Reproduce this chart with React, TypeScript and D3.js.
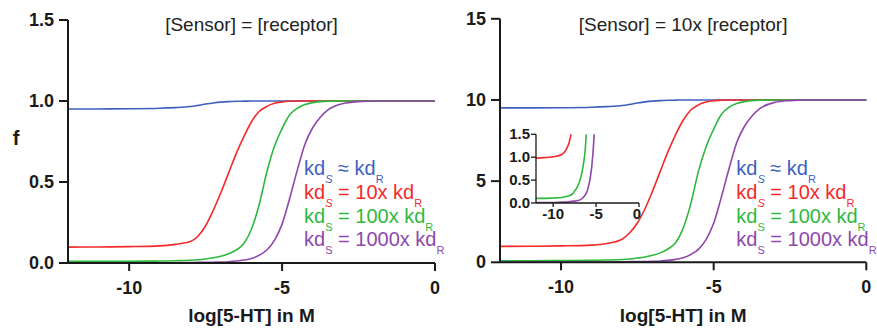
import React from 'react';
import * as d3 from 'd3';

// log[5-HT] (M) sample points
const logConc = [-12, -11, -10, -9, -8.5, -8, -7.75, -7.5, -7.25, -7, -6.75, -6.5, -6.25, -6, -5.75, -5.5, -5.25, -5, -4.75, -4.5, -4.25, -4, -3.75, -3.5, -3, -2.5, -2, -1, 0];

// Left panel: [Sensor] = [receptor]
const blueLeft = [0.951, 0.951, 0.952, 0.955, 0.959, 0.966, 0.973, 0.981, 0.988, 0.993, 0.996, 0.998, 0.999, 1, 1, 1, 1, 1, 1, 1, 1, 1, 1, 1, 1, 1, 1, 1, 1];
const redLeft = [0.098, 0.099, 0.101, 0.106, 0.115, 0.132, 0.165, 0.23, 0.325, 0.435, 0.555, 0.675, 0.78, 0.872, 0.935, 0.967, 0.986, 0.994, 0.998, 1, 1, 1, 1, 1, 1, 1, 1, 1, 1];
const greenLeft = [0.01, 0.01, 0.011, 0.012, 0.014, 0.017, 0.02, 0.025, 0.032, 0.042, 0.057, 0.08, 0.12, 0.21, 0.36, 0.56, 0.72, 0.83, 0.915, 0.955, 0.978, 0.99, 0.996, 0.999, 1, 1, 1, 1, 1];
const purpleLeft = [0.001, 0.001, 0.001, 0.002, 0.002, 0.003, 0.004, 0.004, 0.005, 0.006, 0.008, 0.012, 0.018, 0.028, 0.048, 0.08, 0.14, 0.24, 0.4, 0.575, 0.735, 0.835, 0.9, 0.945, 0.985, 0.996, 1, 1, 1];

// Right panel: [Sensor] = 10x [receptor]
const blueRight = [9.51, 9.51, 9.52, 9.55, 9.59, 9.66, 9.73, 9.81, 9.88, 9.93, 9.96, 9.98, 9.99, 10, 10, 10, 10, 10, 10, 10, 10, 10, 10, 10, 10, 10, 10, 10, 10];
const redRight = [0.98, 0.99, 1.01, 1.06, 1.16, 1.42, 1.82, 2.42, 3.3, 4.4, 5.6, 6.8, 7.85, 8.75, 9.38, 9.7, 9.87, 9.95, 9.98, 10, 10, 10, 10, 10, 10, 10, 10, 10, 10];
const greenRight = [0.1, 0.1, 0.11, 0.12, 0.14, 0.17, 0.2, 0.26, 0.33, 0.43, 0.58, 0.82, 1.2, 2.1, 3.6, 5.6, 7.1, 8.2, 9.1, 9.55, 9.78, 9.9, 9.96, 9.99, 10, 10, 10, 10, 10];
const purpleRight = [0.01, 0.01, 0.01, 0.02, 0.02, 0.03, 0.04, 0.04, 0.05, 0.06, 0.08, 0.12, 0.18, 0.28, 0.48, 0.8, 1.4, 2.4, 4.0, 5.75, 7.35, 8.35, 9.0, 9.45, 9.85, 9.96, 10, 10, 10];

const xTicks = [-10, -5, 0];
const leftYTicks = [0, 0.5, 1.0, 1.5];
const rightYTicks = [0, 5, 10, 15];
const insetYTicks = [0, 0.5, 1.0, 1.5];
const insetXTicks = [-10, -5, 0];

const seriesColors = ['#3f5fbf', '#f42a2a', '#2fb83e', '#8e47ad'];
const legendRatios = ['≈', '= 10x', '= 100x', '= 1000x'];
const legendItalicS = [true, true, false, false];

const FONT = 'Liberation Sans, Arial, Helvetica, sans-serif';
const AXIS = '#1a1a1a';

type PanelProps = {
  left: number; right: number; top: number; bottom: number;
  yMax: number; yTicks: number[]; yFmt: (v: number) => string;
  series: number[][]; title: string; showF: boolean; legendX: number;
  inset?: number[][];
};

function Panel(p: PanelProps) {
  const x = d3.scaleLinear().domain([-12, 0]).range([p.left, p.right]);
  const y = d3.scaleLinear().domain([0, p.yMax]).range([p.bottom, p.top]);
  const line = d3.line<number>().x((_, i) => x(logConc[i])).y(v => y(v)).curve(d3.curveMonotoneX);
  const cx = (p.left + p.right) / 2;

  let insetEl = null;
  if (p.inset) {
    const il = p.left + 36, ir = p.left + 139, it = 134.3, ib = 203;
    const ix = d3.scaleLinear().domain([-12, 0]).range([il, ir]);
    const iy = d3.scaleLinear().domain([0, 1.5]).range([ib, it]);
    const iline = d3.line<number>().x((_, i) => ix(logConc[i])).y(v => iy(v)).curve(d3.curveMonotoneX);
    insetEl = (
      <g>
        <defs>
          <clipPath id="insetClip"><rect x={il} y={it} width={ir - il} height={ib - it} /></clipPath>
        </defs>
        <g clipPath="url(#insetClip)">
          {p.inset.slice(1).map((s, k) => (
            <path key={k} d={iline(s) || ''} fill="none" stroke={seriesColors[k + 1]} strokeWidth={1.6} />
          ))}
        </g>
        <line x1={il} x2={il} y1={ib} y2={it} stroke={AXIS} strokeWidth={1.3} />
        <line x1={il} x2={ir} y1={ib} y2={ib} stroke={AXIS} strokeWidth={1.3} />
        {insetYTicks.map(t => (
          <g key={t}>
            <line x1={il - 5} x2={il} y1={iy(t)} y2={iy(t)} stroke={AXIS} strokeWidth={1.3} />
            <text x={il - 6} y={iy(t) + 5} textAnchor="end" fontSize={15} fontWeight="bold" fontFamily={FONT} fill={AXIS}>{t.toFixed(1)}</text>
          </g>
        ))}
        {insetXTicks.map(t => (
          <g key={t}>
            <line x1={ix(t)} x2={ix(t)} y1={ib} y2={ib + 4} stroke={AXIS} strokeWidth={1.3} />
            <text x={ix(t) - (t === 0 ? 2 : 0)} y={ib + 16} textAnchor="middle" fontSize={15} fontWeight="bold" fontFamily={FONT} fill={AXIS}>{t}</text>
          </g>
        ))}
      </g>
    );
  }

  return (
    <g>
      <text x={cx} y={31} textAnchor="middle" fontSize={19} fontFamily={FONT} fill="#222">{p.title}</text>
      {p.series.map((s, k) => (
        <path key={k} d={line(s) || ''} fill="none" stroke={seriesColors[k]} strokeWidth={1.6} />
      ))}
      <line x1={p.left} x2={p.left} y1={p.bottom} y2={p.top} stroke={AXIS} strokeWidth={2} />
      <line x1={p.left} x2={p.right} y1={p.bottom} y2={p.bottom} stroke={AXIS} strokeWidth={2} />
      {p.yTicks.map(t => (
        <g key={t}>
          <line x1={p.left - 9} x2={p.left} y1={y(t)} y2={y(t)} stroke={AXIS} strokeWidth={2} />
          <text x={p.left - 14} y={y(t) + 6} textAnchor="end" fontSize={18} fontWeight="bold" fontFamily={FONT} fill={AXIS}>{p.yFmt(t)}</text>
        </g>
      ))}
      {xTicks.map(t => (
        <g key={t}>
          <line x1={x(t)} x2={x(t)} y1={p.bottom} y2={p.bottom + 8} stroke={AXIS} strokeWidth={2} />
          <text x={x(t)} y={p.bottom + 31} textAnchor="middle" fontSize={18} fontWeight="bold" fontFamily={FONT} fill={AXIS}>{t}</text>
        </g>
      ))}
      <text x={cx} y={322} textAnchor="middle" fontSize={19} fontWeight="bold" fontFamily={FONT} fill={AXIS}>log[5-HT] in M</text>
      {p.showF && (
        <text x={16} y={145} textAnchor="middle" fontSize={20} fontWeight="bold" fontFamily={FONT} fill={AXIS}>f</text>
      )}
      {insetEl}
      {legendRatios.map((r, k) => (
        <text key={k} x={p.legendX} y={175.3 + k * 23.7} fontSize={20} fontFamily={FONT} fill={seriesColors[k]}>
          kd
          <tspan fontSize={11} dy={8} fontStyle={legendItalicS[k] ? 'italic' : 'normal'}>S</tspan>
          <tspan dy={-8}>{' ' + r + ' kd'}</tspan>
          <tspan fontSize={11} dy={8}>R</tspan>
        </text>
      ))}
    </g>
  );
}

export default function App() {
  return (
    <svg width={877} height={331} style={{ position: 'absolute', left: 0, top: 0, background: '#fff' }}>
      <rect x={0} y={0} width={877} height={331} fill="#fff" />
      <Panel left={68} right={435} top={20} bottom={263} yMax={1.5} yTicks={leftYTicks}
        yFmt={v => v.toFixed(1)} series={[blueLeft, redLeft, greenLeft, purpleLeft]}
        title="[Sensor] = [receptor]" showF={true} legendX={304} />
      <Panel left={500} right={866.3} top={18.8} bottom={262.3} yMax={15} yTicks={rightYTicks}
        yFmt={v => String(v)} series={[blueRight, redRight, greenRight, purpleRight]}
        title="[Sensor] = 10x [receptor]" showF={false} legendX={736.3}
        inset={[blueRight, redRight, greenRight, purpleRight]} />
    </svg>
  );
}
